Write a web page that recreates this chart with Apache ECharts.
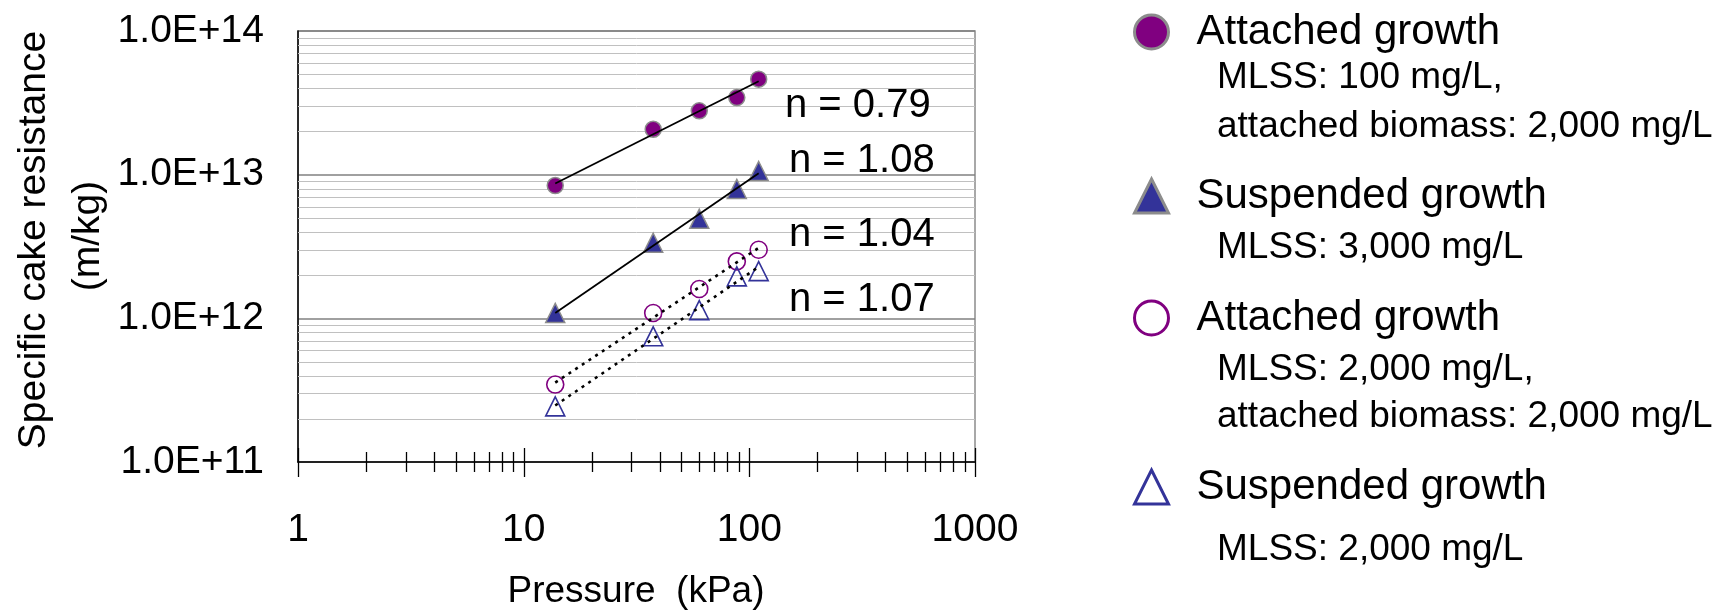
<!DOCTYPE html>
<html>
<head>
<meta charset="utf-8">
<script src="https://cdn.jsdelivr.net/npm/echarts@6/dist/echarts.min.js"></script>
<style>
  html, body { margin: 0; padding: 0; background: #ffffff; }
  #chart { width: 1724px; height: 613px; }
</style>
</head>
<body>
<div id="chart"></div>
<script>
// Pressure steps (kPa) shared by all four filtration runs
const pressureKPa = [13.8, 37.5, 60, 88, 110];

// Specific cake resistance (m/kg) for each run
const attachedMlss100 = [8.4e12, 2.07e13, 2.78e13, 3.44e13, 4.62e13];
const suspendedMlss3000 = [1.09e12, 3.36e12, 4.93e12, 7.96e12, 1.06e13];
const attachedMlss2000 = [3.46e11, 1.09e12, 1.60e12, 2.49e12, 3.00e12];
const suspendedMlss2000 = [2.44e11, 7.5e11, 1.14e12, 1.96e12, 2.13e12];

// Compressibility exponents of the power-law fits (alpha = a * P^n)
const exponentN = [0.79, 1.08, 1.04, 1.07];

// Legend texts
const seriesKeys = ['attached-100', 'suspended-3000', 'attached-2000', 'suspended-2000'];
const seriesTitles = ['Attached growth', 'Suspended growth', 'Attached growth', 'Suspended growth'];
const seriesDetails = [
  ['MLSS: 100 mg/L,', 'attached biomass: 2,000 mg/L'],
  ['MLSS: 3,000 mg/L'],
  ['MLSS: 2,000 mg/L,', 'attached biomass: 2,000 mg/L'],
  ['MLSS: 2,000 mg/L']
];

// Axis texts
const xTickLabels = ['1', '10', '100', '1000'];
const yTickLabels = ['1.0E+11', '1.0E+12', '1.0E+13', '1.0E+14'];
const xAxisTitle = 'Pressure  (kPa)';
const yAxisTitle = ['Specific cake resistance', '(m/kg)'];

// ---------------------------------------------------------------
const FONT = "'Liberation Sans', Arial, sans-serif";
const X_MIN = 1, X_MAX = 1000, Y_MIN = 1e11, Y_MAX = 1e14;
const MULTIPLIERS = [2, 3, 4, 5, 6, 7, 8, 9];

function decadeSteps(lo, hi) {
  const out = [];
  for (let d = lo; d < hi; d *= 10) MULTIPLIERS.forEach(m => out.push(m * d));
  return out;
}
const xMinorTicks = decadeSteps(X_MIN, X_MAX);
const xMajorTicks = [1, 10, 100, 1000];
const yMinorGrid = decadeSteps(Y_MIN, Y_MAX);

const seriesValues = [attachedMlss100, suspendedMlss3000, attachedMlss2000, suspendedMlss2000];

// Power-law trend: slope n fixed, intercept from least squares in log space
function trendLine(values, n) {
  const lx = pressureKPa.map(Math.log10);
  const ly = values.map(Math.log10);
  const mx = lx.reduce((a, b) => a + b, 0) / lx.length;
  const my = ly.reduce((a, b) => a + b, 0) / ly.length;
  const la = my - n * mx;
  const ends = [pressureKPa[0], pressureKPa[pressureKPa.length - 1]];
  return ends.map(x => [x, Math.pow(10, la + n * Math.log10(x))]);
}

const CLEAR = 'rgba(255,255,255,0)';
const markerStyles = [
  { symbol: 'circle', size: 16, itemStyle: { color: '#800080', borderColor: '#8c8c8c', borderWidth: 1.5, opacity: 1 } },
  { symbol: 'triangle', size: 19, itemStyle: { color: '#333399', borderColor: '#8c8c8c', borderWidth: 1.5, opacity: 1 } },
  { symbol: 'circle', size: 17, itemStyle: { color: CLEAR, borderColor: '#800080', borderWidth: 1.6, opacity: 1 } },
  { symbol: 'triangle', size: 19, itemStyle: { color: CLEAR, borderColor: '#333399', borderWidth: 1.6, opacity: 1 } }
];
const legendIconStyles = [
  { color: '#800080', borderColor: '#8c8c8c', borderWidth: 3, opacity: 1 },
  { color: '#333399', borderColor: '#8c8c8c', borderWidth: 3, opacity: 1 },
  { color: CLEAR, borderColor: '#800080', borderWidth: 3, opacity: 1 },
  { color: CLEAR, borderColor: '#333399', borderWidth: 3, opacity: 1 }
];
const trendStyles = [
  { color: '#000', width: 1.8, type: 'solid' },
  { color: '#000', width: 1.8, type: 'solid' },
  { color: '#000', width: 2.6, type: [3, 5] },
  { color: '#000', width: 2.6, type: [3, 5] }
];

const series = [];

// Minor horizontal gridlines at 2..9 of every decade
series.push({
  type: 'custom', name: 'minor-grid', silent: true, z: 1,
  data: yMinorGrid.map(v => [X_MIN, v]),
  renderItem: (params, api) => {
    const y = api.value(1);
    const p0 = api.coord([X_MIN, y]);
    const p1 = api.coord([X_MAX, y]);
    const py = Math.round(p0[1]) + 0.5;
    return { type: 'line', shape: { x1: p0[0], y1: py, x2: p1[0], y2: py },
      style: { stroke: '#c0c0c0', lineWidth: 1 } };
  }
});

// Tick marks crossing the pressure axis
function tickSeries(name, values, halfUp, halfDown) {
  return {
    type: 'custom', name: name, silent: true, z: 3, clip: false,
    data: values.map(v => [v, Y_MIN]),
    renderItem: (params, api) => {
      const p = api.coord([api.value(0), Y_MIN]);
      const px = Math.round(p[0]) + 0.5;
      return { type: 'line', shape: { x1: px, y1: p[1] - halfUp, x2: px, y2: p[1] + halfDown },
        style: { stroke: '#000', lineWidth: 1.3 } };
    }
  };
}
series.push(tickSeries('minor-ticks', xMinorTicks, 10, 10));
series.push(tickSeries('major-ticks', xMajorTicks, 14, 15));

// Measured points
seriesValues.forEach((vals, i) => {
  series.push({
    type: 'scatter', name: seriesKeys[i], z: 4,
    symbol: markerStyles[i].symbol, symbolSize: markerStyles[i].size,
    itemStyle: markerStyles[i].itemStyle,
    data: pressureKPa.map((p, k) => [p, vals[k]])
  });
});

// Power-law trend lines drawn over the markers
seriesValues.forEach((vals, i) => {
  series.push({
    type: 'line', name: 'trend-' + seriesKeys[i], z: 5,
    showSymbol: false, silent: true,
    lineStyle: trendStyles[i],
    data: trendLine(vals, exponentN[i])
  });
});

// Legend block layout (vertical centres of each text row)
const legendMainY = [26, 190, 312, 481];
const legendDetailY = [[76, 125], [246], [368, 415], [548]];
const ICON = 34;

const legends = seriesKeys.map((key, i) => ({
  data: [{ name: key, itemStyle: legendIconStyles[i] }],
  left: 1150 - ICON / 2, top: legendMainY[i] + 2 - ICON / 2,
  padding: 0, itemWidth: ICON, itemHeight: ICON,
  selectedMode: false,
  formatter: () => seriesTitles[i],
  textStyle: { fontFamily: FONT, fontSize: 42, color: '#000', padding: [0, 0, 0, 23] }
}));

const graphics = [];
seriesDetails.forEach((lines, i) => {
  lines.forEach((txt, k) => {
    graphics.push({
      type: 'text', x: 1217, y: legendDetailY[i][k] + 2, silent: true,
      style: { text: txt, font: '37px ' + FONT, fill: '#000', align: 'left', verticalAlign: 'middle' }
    });
  });
});

// Exponent labels beside the fitted lines
const nLabelPos = [[785, 106], [789, 161], [789, 235], [789, 300]];
exponentN.forEach((n, i) => {
  graphics.push({
    type: 'text', x: nLabelPos[i][0], y: nLabelPos[i][1], silent: true, z: 10,
    style: { text: 'n = ' + n.toFixed(2), font: '40px ' + FONT, fill: '#000',
      align: 'left', verticalAlign: 'middle' }
  });
});

// Axis titles
graphics.push({
  type: 'text', x: 636, y: 592, silent: true,
  style: { text: xAxisTitle, font: '37px ' + FONT, fill: '#000', align: 'center', verticalAlign: 'middle' }
});
graphics.push({
  type: 'text', x: 34, y: 240, rotation: Math.PI / 2, silent: true,
  style: { text: yAxisTitle[0], font: '39px ' + FONT, fill: '#000', align: 'center', verticalAlign: 'middle' }
});
graphics.push({
  type: 'text', x: 88, y: 236, rotation: Math.PI / 2, silent: true,
  style: { text: yAxisTitle[1], font: '39px ' + FONT, fill: '#000', align: 'center', verticalAlign: 'middle' }
});

const chart = echarts.init(document.getElementById('chart'), null, { renderer: 'canvas' });
chart.setOption({
  animation: false,
  backgroundColor: '#ffffff',
  grid: {
    left: 298, top: 31, width: 677, height: 431,
    show: true, borderColor: '#8c8c8c', borderWidth: 1.5, backgroundColor: 'transparent'
  },
  xAxis: {
    type: 'log', logBase: 10, min: X_MIN, max: X_MAX,
    axisLine: { show: true, lineStyle: { color: '#000', width: 1.5 } },
    axisTick: { show: false },
    splitLine: { show: false },
    axisLabel: {
      margin: 49, fontSize: 39, fontFamily: FONT, color: '#000',
      formatter: v => xTickLabels[Math.round(Math.log10(v / X_MIN))]
    }
  },
  yAxis: {
    type: 'log', logBase: 10, min: Y_MIN, max: Y_MAX,
    axisLine: { show: true, lineStyle: { color: '#000', width: 1.5 } },
    axisTick: { show: false },
    splitLine: { show: true, lineStyle: { color: '#808080', width: 1.5 } },
    axisLabel: {
      margin: 34, fontSize: 39, fontFamily: FONT, color: '#000', padding: [16, 0, 0, 0],
      formatter: v => yTickLabels[Math.round(Math.log10(v / Y_MIN))]
    }
  },
  legend: legends,
  graphic: graphics,
  series: series
});
</script>
</body>
</html>
